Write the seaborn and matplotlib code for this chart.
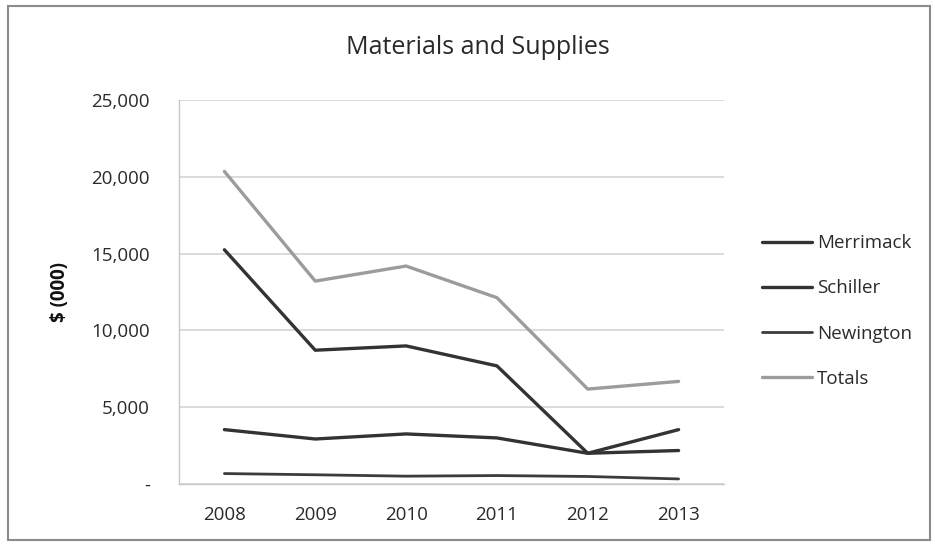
import matplotlib
matplotlib.use("Agg")
import matplotlib.pyplot as plt
import seaborn as sns
import pandas as pd
from matplotlib.patches import Rectangle
from matplotlib.ticker import FuncFormatter

years = [2008, 2009, 2010, 2011, 2012, 2013]
merrimack = [15250, 8710, 8990, 7690, 2000, 3540]
schiller = [3540, 2930, 3260, 3000, 2000, 2180]
newington = [680, 600, 510, 550, 490, 330]
totals = [20350, 13210, 14190, 12130, 6180, 6680]
series_names = ["Merrimack", "Schiller", "Newington", "Totals"]
title = "Materials and Supplies"
ylabel = "$ (000)"

df = pd.concat([
    pd.DataFrame({"year": years, "value": v, "series": n})
    for n, v in zip(series_names, [merrimack, schiller, newington, totals])
])

sns.set_theme(style="white")
plt.rcParams["font.family"] = ["Open Sans", "DejaVu Sans"]

fig = plt.figure(figsize=(9.35, 5.46), dpi=100)
ax = fig.add_axes([179/935, 1-484/546, (724-179)/935, (484-100)/546])

palette = {"Merrimack": "#333333", "Schiller": "#333333",
           "Newington": "#3c3c3c", "Totals": "#9c9c9c"}
widths = {"Merrimack": 2.4, "Schiller": 2.4, "Newington": 2.0, "Totals": 2.4}

sns.lineplot(data=df, x="year", y="value", hue="series", palette=palette,
             hue_order=series_names, ax=ax, legend=True)
for line, name in zip(ax.get_lines(), series_names):
    line.set_linewidth(widths[name])

ax.set_xlim(2007.5, 2013.5)
ax.set_ylim(0, 25000)
ax.set_xticks(years)
ax.set_xticklabels([str(y) for y in years])
ax.set_yticks([0, 5000, 10000, 15000, 20000, 25000])
ax.yaxis.set_major_formatter(FuncFormatter(lambda v, p: "-" if v == 0 else f"{int(v):,}"))
ax.yaxis.grid(True, color="#d4d4d4", linewidth=1.2)
ax.xaxis.grid(False)
ax.set_axisbelow(True)
for s in ["top", "right"]:
    ax.spines[s].set_visible(False)
for s in ["left", "bottom"]:
    ax.spines[s].set_color("#c8c8c8")
    ax.spines[s].set_linewidth(1.0)
ax.tick_params(axis="both", length=0, labelsize=13.5, colors="#2a2a2a")
ax.tick_params(axis="x", pad=16)
ax.tick_params(axis="y", pad=21)
for lbl in ax.get_yticklabels():
    lbl.set_horizontalalignment("right")
ax.set_xlabel("")
ax.set_ylabel(ylabel, fontsize=13.5, fontweight="bold", color="#111111", labelpad=15)

leg = ax.legend(title=None, loc="center left", bbox_to_anchor=(762/935, 1-311/546),
                bbox_transform=fig.transFigure, borderaxespad=0, borderpad=0,
                frameon=False, fontsize=13.5, handlelength=2.67, handletextpad=0.25,
                labelspacing=1.45)
for h, name in zip(leg.get_lines(), series_names):
    h.set_linewidth(widths[name])
for t in leg.get_texts():
    t.set_color("#2a2a2a")

fig.text(478/935, 1-48/546, title, ha="center", va="center", fontsize=18, color="#2a2a2a")

fig.patches.append(Rectangle((8/935, 6/546), 922/935, 534/546, transform=fig.transFigure,
                             fill=False, edgecolor="#8a8a8a", linewidth=1.5))

fig.savefig("out.png", dpi=100)
